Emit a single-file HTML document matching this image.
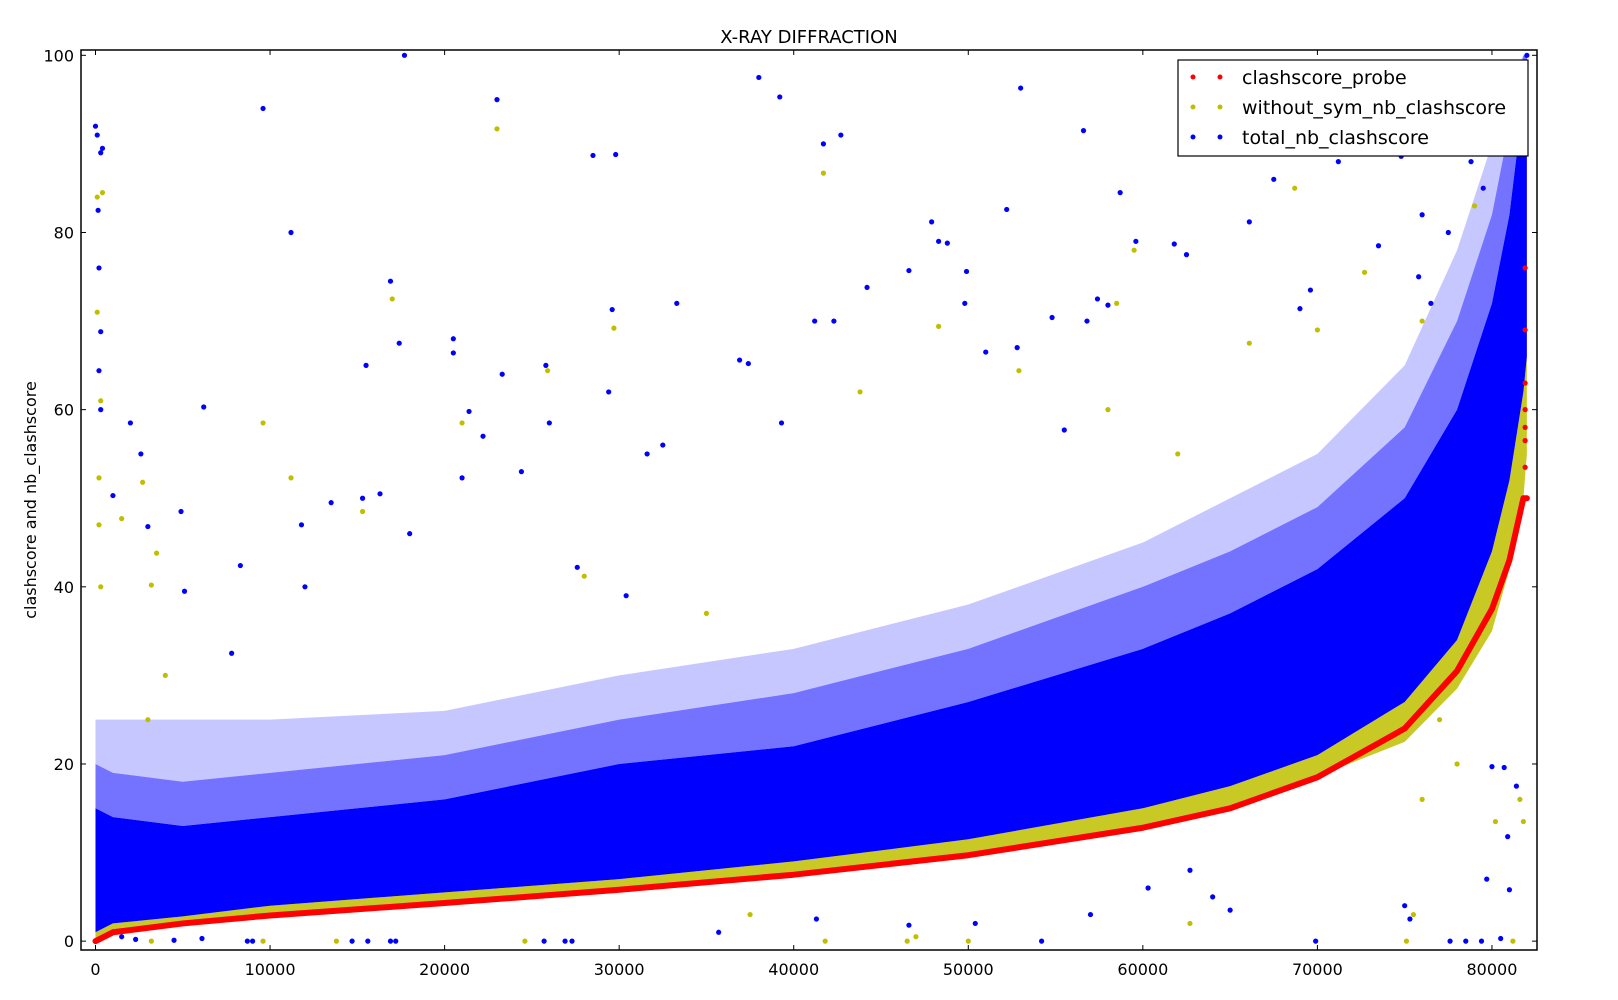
<!DOCTYPE html>
<html><head><meta charset="utf-8">
<style>
html,body{margin:0;padding:0;background:#fff;width:1618px;height:1000px;overflow:hidden}
svg{display:block;font-family:"DejaVu Sans","Liberation Sans",sans-serif}
</style></head>
<body>
<svg id="chart" width="1618" height="1000" viewBox="0 0 1618 1000" xmlns="http://www.w3.org/2000/svg">
<text x="809" y="43" font-size="18" text-anchor="middle">X-RAY DIFFRACTION</text>
<text transform="translate(36,500) rotate(-90)" font-size="16" text-anchor="middle">clashscore and nb_clashscore</text>
<g id="plot"></g>
<g id="axes"></g>
<g id="legend"></g>
</svg>
<script>
// ---- data ----
const xTicks = [0,10000,20000,30000,40000,50000,60000,70000,80000];
const yTicks = [0,20,40,60,80,100];
const bandX       = [0,1000,5000,10000,20000,30000,40000,50000,60000,65000,70000,75000,78000,80000,81000,81800,82000];
const redProbe    = [0,1.0,2.0,2.9,4.3,5.8,7.5,9.7,12.8,15,18.5,24,30.5,37.5,43,50,50];
const blueSparseHi= [25,25,25,25,26,30,33,38,45,50,55,65,78,90,97,100,100];
const blueMidHi   = [20,19,18,19,21,25,28,33,40,44,49,58,70,82,92,100,100];
const blueCoreHi  = [15,14,13,14,16,20,22,27,33,37,42,50,60,72,82,95,100];
const blueCoreLo  = [1,2,2.8,4,5.5,7,9,11.5,15,17.5,21,27,34,44,52,62,66];
const yellowLo    = [0.3,1.3,2.3,3.2,4.6,6.1,7.8,10,13.1,15.3,18.6,22.5,28.5,35,42,50,55];
const blueOutX = [0,100,300,400,200,300,200,300,150,9600,11200,17700,23000,28500,29800,38000,39200,41700,42700,53000,56600,52200,47900,48300,48800,59600,58700,61800,62500,66100,67500,69000,71200,69600,6200,2000,2600,11800,15500,16900,17400,20500,20500,21400,22200,23300,25800,26000,29400,29600,33300,37400,36900,39300,41200,42300,44200,46600,49900,49800,52800,51000,54800,56800,57400,58000,55500,4900,5100,1000,3000,8300,7800,13500,15300,16300,12000,18000,21000,24400,27600,30400,32500,31600,1500,2300,4500,6100,8700,9000,14700,15600,16900,17200,25700,26900,27300,35700,41300,46600,50400,54200,57000,69900,75300,77600,78500,79400,80500,81000,79700,80900,81400,80700,80000,75000,65000,64000,62700,60300,82000,81700,81000,80500,79500,78800,77500,76000,74800,73500,75800,76500];
const blueOutY = [92,91,89,89.5,76,68.8,64.4,60,82.5,94,80,100,95,88.7,88.8,97.5,95.3,90,91,96.3,91.5,82.6,81.2,79,78.8,79,84.5,78.7,77.5,81.2,86,71.4,88,73.5,60.3,58.5,55,47,65,74.5,67.5,68,66.4,59.8,57,64,65,58.5,62,71.3,72,65.2,65.6,58.5,70,70,73.8,75.7,75.6,72,67,66.5,70.4,70,72.5,71.8,57.7,48.5,39.5,50.3,46.8,42.4,32.5,49.5,50,50.5,40,46,52.3,53,42.2,39,56,55,0.5,0.2,0.1,0.3,0,0,0,0,0,0,0,0,0,1,2.5,1.8,2,0,3,0,2.5,0,0,0,0.3,5.8,7,11.8,17.5,19.6,19.7,4,3.5,5,8,6,100,95,92,90,85,88,80,82,88.6,78.5,75,72];
const yelOutX = [400,100,100,300,200,23000,17000,9600,11200,29700,25900,41700,48300,52900,59500,58500,66100,68700,70000,72700,3500,1500,3200,21000,15300,28000,35000,43800,58000,62000,79000,76000,2700,200,300,3000,4000,3200,9600,13800,24600,41800,46500,47000,62700,75100,75500,81200,81800,81600,80200,78000,76000,77000,50000,37500];
const yelOutY = [84.5,84,71,61,52.3,91.7,72.5,58.5,52.3,69.2,64.4,86.7,69.4,64.4,78,72,67.5,85,69,75.5,43.8,47.7,40.2,58.5,48.5,41.2,37,62,60,55,83,70,51.8,47,40,25,30,0,0,0,0,0,0,0.5,2,0,3,0,13.5,16,13.5,20,16,25,0,3];
const redOutX = [81900,81900,81900,81900,81900,81900,81900];
const redOutY = [76,69,63,60,56.5,53.5,58];
const legendLabels = ["clashscore_probe","without_sym_nb_clashscore","total_nb_clashscore"];

// ---- scales ----
const L=81,R=1537,T=50,B=950;
const x0=-830,x1=82580,y0=-1.0,y1=100.6;
function sx(v){return L+(v-x0)/(x1-x0)*(R-L);}
function sy(v){return B-(v-y0)/(y1-y0)*(B-T);}
const NS="http://www.w3.org/2000/svg";
function mk(tag,attrs,parent){const e=document.createElementNS(NS,tag);for(const k in attrs)e.setAttribute(k,attrs[k]);parent.appendChild(e);return e;}
const plot=document.getElementById('plot'), axes=document.getElementById('axes'), legend=document.getElementById('legend');

const defs=mk('defs',{},plot);
const cp=mk('clipPath',{id:'clip'},defs);
mk('rect',{x:L,y:T,width:R-L,height:B-T},cp);
const g=mk('g',{'clip-path':'url(#clip)'},plot);

function band(hi,lo,fill,op,name){
  let d='M'+bandX.map((x,i)=>sx(x)+','+sy(hi[i])).join(' L');
  for(let i=bandX.length-1;i>=0;i--) d+=' L'+sx(bandX[i])+','+sy(lo[i]);
  const p=mk('path',{d:d+'Z',fill:fill,'fill-opacity':op},g);
  
  
}
band(blueCoreLo,yellowLo,'#bfbf00',0.85,'yellow-band');
band(blueSparseHi,blueMidHi,'#0000ff',0.22,'blue-sparse-band');
band(blueMidHi,blueCoreHi,'#0000ff',0.55,'blue-mid-band');
band(blueCoreHi,blueCoreLo,'#0000ff',1,'blue-core-band');

function dots(xs,ys,color,name){
  for(let i=0;i<xs.length;i++){
    const c=mk('circle',{cx:sx(xs[i]),cy:sy(ys[i]),r:2.6,fill:color},g);
    
    
  }
}
dots(yelOutX,yelOutY,'#bfbf00','yellow-point');
dots(blueOutX,blueOutY,'#0000ff','blue-point');

const rl=mk('polyline',{points:bandX.map((x,i)=>sx(x)+','+sy(redProbe[i])).join(' '),fill:'none',stroke:'#ff0000','stroke-width':6,'stroke-linejoin':'round','stroke-linecap':'round'},g);


dots(redOutX,redOutY,'#ff0000','red-point');

const fr=mk('rect',{x:L,y:T,width:R-L,height:B-T,fill:'none',stroke:'#000','stroke-width':1.5},axes);


xTicks.forEach(v=>{
  const X=sx(v);
  mk('line',{x1:X,y1:B,x2:X,y2:B-5,stroke:'#000'},axes);
  mk('line',{x1:X,y1:T,x2:X,y2:T+5,stroke:'#000'},axes);
  const t=mk('text',{x:X,y:B+25,'font-size':16,'text-anchor':'middle'},axes);
  t.textContent=v;
  
  
});
yTicks.forEach(v=>{
  const Y=sy(v);
  mk('line',{x1:L,y1:Y,x2:L+5,y2:Y,stroke:'#000'},axes);
  mk('line',{x1:R,y1:Y,x2:R-5,y2:Y,stroke:'#000'},axes);
  const t=mk('text',{x:L-7,y:Y+6,'font-size':16,'text-anchor':'end'},axes);
  t.textContent=v;
  
  
});

const lb=mk('rect',{x:1178,y:60,width:350,height:96,fill:'#fff',stroke:'#000','stroke-width':1.2},legend);


const lc=['#ff0000','#bfbf00','#0000ff'];
legendLabels.forEach((s,i)=>{
  const y=77+i*30;
  const e=mk('g',{},legend);
  
  
  mk('circle',{cx:1193,cy:y,r:2.5,fill:lc[i]},e);
  mk('circle',{cx:1220,cy:y,r:2.5,fill:lc[i]},e);
  const t=mk('text',{x:1242,y:y+7,'font-size':19},e);
  t.textContent=s;
});
</script>
</body></html>
